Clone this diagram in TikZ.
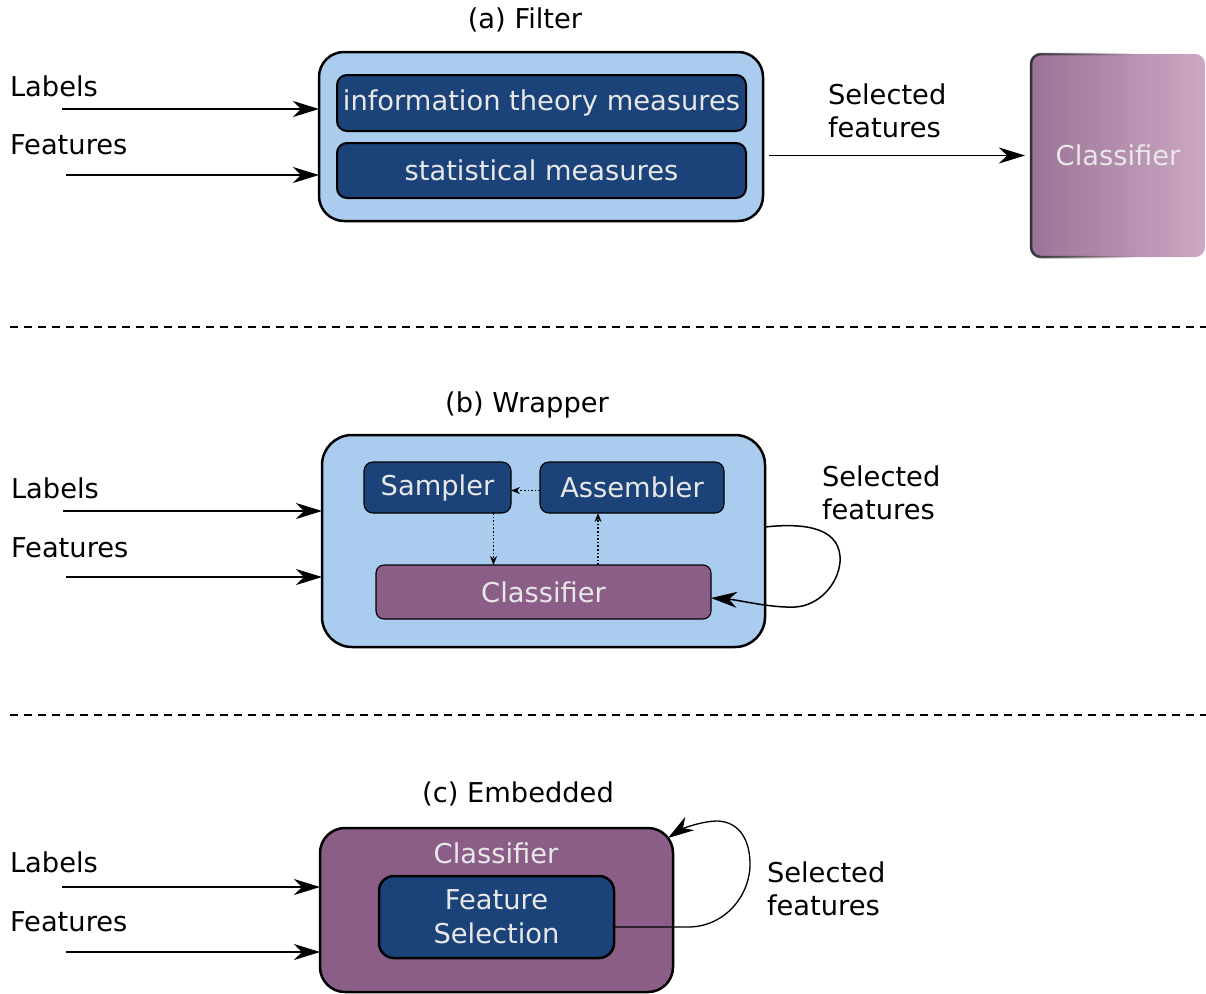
\documentclass[tikz,border=0pt]{standalone}
\usepackage{fontspec}
\setmainfont{DejaVu Sans}
\usetikzlibrary{arrows.meta,fadings}
\definecolor{lblue}{HTML}{AACCEE}
\definecolor{dblue}{HTML}{1B4379}
\definecolor{purp}{HTML}{8B5E88}
\definecolor{ltext}{HTML}{E8E8E8}
\definecolor{gradl}{HTML}{9B7397}
\definecolor{gradr}{HTML}{CCA8C4}
\newcommand{\bigf}{\fontsize{27.3}{33}\selectfont}
\begin{document}
\begin{tikzpicture}[x=1pt,y=-1pt,
  every node/.style={inner sep=0pt, outer sep=0pt},
  outer/.style={draw=black, line width=2.5pt, fill=lblue, rounded corners=25pt},
  innerbox/.style={draw=black, line width=2pt, fill=dblue, text=ltext, rounded corners=10pt, font=\bigf},
  smallbox/.style={draw=black, line width=1.1pt, fill=dblue, text=ltext, rounded corners=9pt, font=\bigf},
  txt/.style={font=\bigf, text=black},
  lbl/.style={font=\bigf, anchor=west, align=left},
  arr/.style={line width=1.5pt, -{Stealth[length=26pt,width=16pt,inset=8pt]}},
  dotarr/.style={line width=1.6pt, dotted, -{Stealth[length=9pt,width=7pt,inset=3pt]}},
  sep/.style={line width=1.2pt, dash pattern=on 8pt off 6pt}
]
\useasboundingbox (0,0) rectangle (1206,993);

% ---------------- (a) Filter ----------------
\node[txt] (ta) at (525,20) {(a) Filter};
\node[outer, minimum width=444pt, minimum height=169pt] (outerA) at (541,136.5) {};
\node[innerbox, minimum width=409pt, minimum height=56pt] (itm) at (541.5,103) {information theory measures};
\node[innerbox, minimum width=409pt, minimum height=55pt] (stm) at (541.5,170.5) {statistical measures};
\node[lbl] (labA) at (10,86) {Labels};
\node[lbl] (feaA) at (10,145) {Features};
\coordinate (la) at (62,109);
\coordinate (fa) at (66,175);
\draw[arr] (la) -- (la -| outerA.west);
\draw[arr] (fa) -- (fa -| outerA.west);
% gradient classifier
\shade[left color=gradl, right color=gradr, rounded corners=10pt] (1031,54) rectangle (1205,257);
\draw[line width=2.5pt, draw=black!80, rounded corners=10pt, path fading=east]
  (1135,54) -- (1031,54) -- (1031,257) -- (1135,257);
\node[font=\bigf, text=ltext, minimum width=174pt, minimum height=203pt] (clsA) at (1118,155.5) {Classifier};
\draw[arr, shorten >=6pt] ([xshift=6pt]outerA.east |- clsA.west) -- (clsA.west);
\node[lbl] (selA) at (828,111) {Selected\\features};

\draw[sep] (10,327) -- (1206,327);

% ---------------- (b) Wrapper ----------------
\node[txt] (tb) at (527,405) {(b) Wrapper};
\node[outer, rounded corners=30pt, minimum width=443pt, minimum height=212pt] (outerB) at (543.5,541) {};
\node[smallbox, minimum width=147pt, minimum height=51pt] (samp) at (437.5,487.5) {Sampler};
\node[smallbox, minimum width=184pt, minimum height=51pt] (asm) at (632,487.5) {Assembler};
\node[smallbox, fill=purp, rounded corners=8pt, minimum width=335pt, minimum height=54pt] (clsB) at (543.5,592) {Classifier};
\draw[dotarr] ([yshift=-3pt]asm.west) -- ([yshift=-3pt]samp.east);
\draw[dotarr] ([xshift=56pt]samp.south) -- ([xshift=56pt]samp.south |- clsB.north);
\draw[dotarr] ([xshift=-34pt]asm.south |- clsB.north) -- ([xshift=-34pt]asm.south);
\node[lbl] (labB) at (11,488) {Labels};
\node[lbl] (feaB) at (11,548) {Features};
\coordinate (lb) at (63,511);
\coordinate (fb) at (66,577);
\draw[arr] (lb) -- (lb -| outerB.west);
\draw[arr] (fb) -- (fb -| outerB.west);
\draw[arr] ([yshift=14pt]outerB.east) .. controls (810,522) and (842,530) .. (840,562)
  .. controls (838,585) and (818,606) .. (795,607)
  .. controls (770,608) and (740,600) .. ([yshift=-6pt]clsB.east);
\node[lbl] (selB) at (822,493) {Selected\\features};

\draw[sep] (10,715) -- (1206,715);

% ---------------- (c) Embedded ----------------
\node[txt] (tc) at (518,794) {(c) Embedded};
\node[outer, fill=purp, minimum width=353pt, minimum height=164pt] (outerC) at (496.5,910) {};
\node[font=\bigf, text=ltext] (clsC) at (496,853) {Classifier};
\node[draw=black, line width=2.5pt, fill=dblue, text=ltext, rounded corners=15pt, font=\fontsize{27.3}{34}\selectfont,
      align=center, minimum width=235pt, minimum height=82pt] (fs) at (496.5,917) {Feature\\Selection};
\node[lbl] (labC) at (10,862) {Labels};
\node[lbl] (feaC) at (10,922) {Features};
\coordinate (lc) at (62,887);
\coordinate (fc) at (66,952);
\draw[arr] (lc) -- (lc -| outerC.west);
\draw[arr] (fc) -- (fc -| outerC.west);
\coordinate (cin) at ([xshift=-5pt,yshift=-10pt]outerC.north east);
\draw[arr, line width=1.3pt] ([yshift=-10pt]fs.east) -- (688,927)
  .. controls (725,927) and (751,895) .. (750,862)
  .. controls (749,835) and (736,822) .. (718,821)
  .. controls (700,821) and (680,830) .. (cin);
\node[lbl] (selC) at (767,889) {Selected\\features};
\end{tikzpicture}
\end{document}
